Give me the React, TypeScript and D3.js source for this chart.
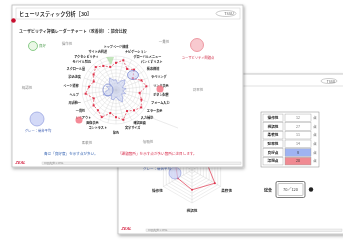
import { useEffect, useRef } from "react";
import * as d3 from "d3";

const W = 343;
const H = 241;

// 前面スライド：多軸レーダー
const radarLabels = [
  "トップページ構成", "ナビゲーション", "グローバルメニュー", "パンくずリスト", "検索機能", "ラベリング",
  "リンク表示", "ボタン配置", "フォーム入力", "エラー表示", "入力補助", "確認画面",
  "文字サイズ", "配色", "コントラスト", "画像表示", "レイアウト", "一貫性",
  "用語統一", "ヘルプ", "ページ遷移", "読込速度", "スクロール量", "モバイル対応",
  "アクセシビリティ", "サイト内回遊",
];
const issueScores = [8, 9, 7, 8, 6, 8, 9, 7, 8, 9, 8, 7, 9, 8, 7, 9, 8, 8, 7, 9, 8, 7, 8, 9, 8, 7];
const goodScores = [3, 2, 3, 4, 3, 2, 3, 2, 3, 2, 3, 4, 3, 2, 3, 3, 2, 3, 4, 3, 2, 3, 2, 3, 4, 3];
const gridLevels = [1, 2, 3, 4, 5, 6, 7, 8, 9, 10];
const categoryLabels = ["操作性", "一貫性", "視認性", "効率性", "柔軟性", "信頼性"];

// 背面スライド：六角レーダーと集計表
const hexLabels = ["信頼性", "効率性", "柔軟性", "視認性", "操作性", "一貫性"];
const hexScores = [6, 5, 8, 6, 5, 6];
const tableNames = ["操作性", "視認性", "柔軟性", "効率性", "良好点", "課題点"];
const tableValues = [12, 27, 11, 14, 8, 20];
const totalText = "70／120";

export default function App() {
  const ref = useRef<SVGSVGElement>(null);

  useEffect(() => {
    const svg = d3.select(ref.current);
    svg.selectAll("*").remove();
    const jp = "'Noto Sans CJK JP', 'Noto Sans', sans-serif";

    const defs = svg.append("defs");
    defs.append("filter").attr("id", "soft")
      .append("feGaussianBlur").attr("stdDeviation", 0.45);
    const sh = defs.append("filter").attr("id", "shadow")
      .attr("x", "-5%").attr("y", "-5%").attr("width", "115%").attr("height", "115%");
    sh.append("feDropShadow").attr("dx", 1).attr("dy", 1.5).attr("stdDeviation", 1.5)
      .attr("flood-color", "#000").attr("flood-opacity", 0.35);

    const root = svg.append("g").attr("filter", "url(#soft)");
    root.append("rect").attr("width", W).attr("height", H).attr("fill", "#fff");

    // ---------- 背面スライド ----------
    const back = root.append("g");
    back.append("rect").attr("x", 118).attr("y", 74).attr("width", 226).attr("height", 160)
      .attr("fill", "#fff").attr("stroke", "#bbb").attr("stroke-width", 0.8)
      .attr("filter", "url(#shadow)");
    back.append("line").attr("x1", 118).attr("x2", 343).attr("y1", 86).attr("y2", 86)
      .attr("stroke", "#ccc").attr("stroke-width", 0.6);
    back.append("ellipse").attr("cx", 329).attr("cy", 81).attr("rx", 8).attr("ry", 2.5)
      .attr("fill", "none").attr("stroke", "#999").attr("stroke-width", 0.5);
    back.append("text").attr("x", 331).attr("y", 82.5).attr("font-size", 3.5).attr("fill", "#555")
      .attr("text-anchor", "middle").attr("font-family", jp).text("TSSU");

    const hc = { x: 192, y: 170 };
    const hr = d3.scaleLinear().domain([0, 10]).range([0, 33]);
    const ha = d3.scaleLinear().domain([0, hexLabels.length]).range([0, 2 * Math.PI]);
    const hexLine = d3.lineRadial<number>().angle((_, i) => ha(i)).radius((d) => hr(d))
      .curve(d3.curveLinearClosed);
    const hg = back.append("g").attr("transform", `translate(${hc.x},${hc.y})`);
    gridLevels.forEach((lv) => {
      hg.append("path").attr("d", hexLine(hexLabels.map(() => lv)))
        .attr("fill", "none").attr("stroke", "#d4d4d4").attr("stroke-width", 0.4);
    });
    hexLabels.forEach((_, i) => {
      const [x, y] = d3.pointRadial(ha(i), hr(10));
      hg.append("line").attr("x2", x).attr("y2", y).attr("stroke", "#ccc").attr("stroke-width", 0.4);
    });
    hg.append("path").attr("d", hexLine(hexScores))
      .attr("fill", "none").attr("stroke", "#e0304a").attr("stroke-width", 0.7);
    hexScores.forEach((v, i) => {
      const [x, y] = d3.pointRadial(ha(i), hr(v));
      hg.append("circle").attr("cx", x).attr("cy", y).attr("r", 1).attr("fill", "#e0304a");
    });
    hexLabels.forEach((t, i) => {
      const [x, y] = d3.pointRadial(ha(i), hr(10) + 7);
      hg.append("text").attr("x", x).attr("y", y + 1.5).attr("text-anchor", "middle")
        .attr("font-size", 3.6).attr("font-weight", "bold").attr("fill", "#333")
        .attr("font-family", jp).text(t);
    });
    hg.append("circle").attr("cx", -17).attr("cy", 3).attr("r", 6)
      .attr("fill", "#c9cff3").attr("fill-opacity", 0.7).attr("stroke", "#8e98de").attr("stroke-width", 0.6);
    hg.append("text").attr("x", -35).attr("y", 0).attr("text-anchor", "middle").attr("font-size", 3.5)
      .attr("fill", "#3557b0").attr("font-family", jp).text("グレー：競合平均");

    // 集計表
    const rowY = d3.scaleBand<number>().domain(d3.range(tableNames.length)).range([113, 166]).padding(0.12);
    const tbl = back.append("g");
    tbl.append("rect").attr("x", 261).attr("y", 112).attr("width", 58).attr("height", 55)
      .attr("fill", "none").attr("stroke", "#888").attr("stroke-width", 0.5);
    tableNames.forEach((name, i) => {
      const y = rowY(i)!;
      const h = rowY.bandwidth();
      tbl.append("rect").attr("x", 263).attr("y", y).attr("width", 20).attr("height", h)
        .attr("fill", "#fff").attr("stroke", "#999").attr("stroke-width", 0.4);
      tbl.append("text").attr("x", 273).attr("y", y + h / 2 + 1.3).attr("text-anchor", "middle")
        .attr("font-size", 3.6).attr("font-weight", "bold").attr("fill", "#222").attr("font-family", jp).text(name);
      const fill = i === 4 ? "#9fb3f2" : i === 5 ? "#f08a92" : "#fff";
      tbl.append("rect").attr("x", 285).attr("y", y).attr("width", 26).attr("height", h)
        .attr("fill", fill).attr("stroke", "#999").attr("stroke-width", 0.4);
      tbl.append("text").attr("x", 298).attr("y", y + h / 2 + 1.3).attr("text-anchor", "middle")
        .attr("font-size", 3.6).attr("fill", i >= 4 ? "#333" : "#777").attr("font-family", jp)
        .text(String(tableValues[i]));
      tbl.append("text").attr("x", 315).attr("y", y + h / 2 + 1.3).attr("text-anchor", "middle")
        .attr("font-size", 3.4).attr("fill", "#333").attr("font-family", jp).text("点");
    });
    back.append("text").attr("x", 268).attr("y", 191.5).attr("text-anchor", "middle").attr("font-size", 4)
      .attr("font-weight", "bold").attr("fill", "#222").attr("font-family", jp).text("総合");
    back.append("rect").attr("x", 276).attr("y", 181.5).attr("width", 29).attr("height", 16).attr("rx", 1.5)
      .attr("fill", "#fff").attr("stroke", "#555").attr("stroke-width", 0.8);
    back.append("rect").attr("x", 278).attr("y", 183.5).attr("width", 25).attr("height", 12).attr("rx", 1)
      .attr("fill", "none").attr("stroke", "#888").attr("stroke-width", 0.5);
    back.append("text").attr("x", 290.5).attr("y", 191).attr("text-anchor", "middle").attr("font-size", 4)
      .attr("fill", "#444").attr("font-family", jp).text(totalText);
    back.append("circle").attr("cx", 311).attr("cy", 189.5).attr("r", 2.2).attr("fill", "#222");

    back.append("text").attr("x", 121).attr("y", 230).attr("font-size", 4.2).attr("font-style", "italic")
      .attr("font-weight", "bold").attr("fill", "#d8314f").attr("font-family", jp).text("ZEAL");
    back.append("rect").attr("x", 146).attr("y", 229).attr("width", 196).attr("height", 2.5)
      .attr("fill", "#f0f0f0").attr("stroke", "#ccc").attr("stroke-width", 0.4);
    back.append("text").attr("x", 148).attr("y", 231.3).attr("font-size", 2.4).attr("fill", "#888")
      .attr("font-family", jp).text("Copyright © ZEAL");

    // ---------- 前面スライド ----------
    const front = root.append("g");
    front.append("rect").attr("x", 12).attr("y", 5).attr("width", 231).attr("height", 162)
      .attr("fill", "#fff").attr("stroke", "#bbb").attr("stroke-width", 0.8)
      .attr("filter", "url(#shadow)");
    front.append("rect").attr("x", 16).attr("y", 8).attr("width", 224).attr("height", 11)
      .attr("fill", "#fff").attr("stroke", "#ccc").attr("stroke-width", 0.5);
    front.append("text").attr("x", 19).attr("y", 15.5).attr("font-size", 5.2).attr("font-weight", "bold")
      .attr("fill", "#333").attr("font-family", jp).text("ヒューリスティック分析［30］");
    front.append("circle").attr("cx", 13.5).attr("cy", 20.5).attr("r", 2.3).attr("fill", "#c8102e");
    front.append("ellipse").attr("cx", 226).attr("cy", 13.5).attr("rx", 10).attr("ry", 3)
      .attr("fill", "none").attr("stroke", "#999").attr("stroke-width", 0.5);
    front.append("text").attr("x", 229).attr("y", 15).attr("font-size", 3.8).attr("fill", "#555")
      .attr("text-anchor", "middle").attr("font-family", jp).text("TSSU");
    front.append("text").attr("x", 19).attr("y", 33).attr("font-size", 4).attr("font-weight", "bold")
      .attr("fill", "#333").attr("font-family", jp).text("ユーザビリティ評価レーダーチャート（改善前）：競合比較");

    const c = { x: 116, y: 90 };
    const r = d3.scaleLinear().domain([0, 10]).range([0, 34]);
    const a = d3.scaleLinear().domain([0, radarLabels.length]).range([0, 2 * Math.PI]);
    const radar = d3.lineRadial<number>().angle((_, i) => a(i)).radius((d) => r(d))
      .curve(d3.curveLinearClosed);
    const g = front.append("g").attr("transform", `translate(${c.x},${c.y})`);

    gridLevels.forEach((lv) => {
      g.append("circle").attr("r", r(lv)).attr("fill", "none")
        .attr("stroke", "#d6d6d6").attr("stroke-width", 0.4);
    });
    radarLabels.forEach((_, i) => {
      const [x, y] = d3.pointRadial(a(i), r(10));
      g.append("line").attr("x2", x).attr("y2", y).attr("stroke", "#d0d0d0").attr("stroke-width", 0.4);
    });
    g.append("path").attr("d", radar(goodScores))
      .attr("fill", "#b9c3ee").attr("fill-opacity", 0.45).attr("stroke", "#7d8bd6").attr("stroke-width", 0.5);
    g.append("path").attr("d", radar(issueScores))
      .attr("fill", "none").attr("stroke", "#e0304a").attr("stroke-width", 0.7).attr("stroke-dasharray", "2,1.5");
    issueScores.forEach((v, i) => {
      const [x, y] = d3.pointRadial(a(i), r(v));
      g.append("rect").attr("x", x - 1).attr("y", y - 1).attr("width", 2).attr("height", 2).attr("fill", "#e0304a");
    });

    // 軸ラベル：左右それぞれ縦方向の重なりを解消
    const labelPos = radarLabels.map((t, i) => {
      const ang = a(i);
      const [x, y] = d3.pointRadial(ang, r(10) + 3.5);
      const s = Math.sin(ang);
      const side = Math.abs(s) < 0.05 ? 0 : s > 0 ? 1 : -1;
      return { t, x, y: side === 0 ? (y < 0 ? y - 5 : y + 6) : y + 1.1, side };
    });
    const gap = 4.6;
    [1, -1].forEach((side) => {
      const items = labelPos.filter((p) => p.side === side).sort((p, q) => p.y - q.y);
      const mid = Math.floor(items.length / 2);
      for (let k = mid - 1; k >= 0; k--) items[k].y = Math.min(items[k].y, items[k + 1].y - gap);
      for (let k = mid + 1; k < items.length; k++) items[k].y = Math.max(items[k].y, items[k - 1].y + gap);
    });
    labelPos.forEach((p) => {
      g.append("text").attr("x", p.x).attr("y", p.y)
        .attr("text-anchor", p.side === 0 ? "middle" : p.side > 0 ? "start" : "end")
        .attr("font-size", 3.1).attr("font-weight", "bold").attr("fill", "#222")
        .attr("font-family", jp).text(p.t);
    });

    // 注釈の円
    g.append("ellipse").attr("cx", -8).attr("cy", 0).attr("rx", 5).attr("ry", 6)
      .attr("fill", "none").attr("stroke", "#6f7fd0").attr("stroke-width", 0.7);
    g.append("ellipse").attr("cx", 17).attr("cy", -15).attr("rx", 5.5).attr("ry", 4.5)
      .attr("fill", "#c9cff3").attr("fill-opacity", 0.5).attr("stroke", "#6f7fd0").attr("stroke-width", 0.7);
    g.append("circle").attr("cx", 44).attr("cy", -1).attr("r", 3.5)
      .attr("fill", "#f26d7d").attr("fill-opacity", 0.8);
    g.append("circle").attr("cx", -37).attr("cy", 30).attr("r", 3.5)
      .attr("fill", "#f26d7d").attr("fill-opacity", 0.8);
    g.append("path").attr("d", "M-10,-33 L-5,-25 L-2,-33 Z").attr("fill", "#a9dba0").attr("fill-opacity", 0.7);

    const corners = [[-49, -45], [48, -47], [-89, -1], [82, 1], [-29, 54], [32, 53]];
    categoryLabels.forEach((t, i) => {
      g.append("text").attr("x", corners[i][0]).attr("y", corners[i][1]).attr("text-anchor", "middle")
        .attr("font-size", 3.5).attr("fill", "#888").attr("font-family", jp).text(t);
    });

    // 凡例的な円
    front.append("circle").attr("cx", 33).attr("cy", 46).attr("r", 4.5)
      .attr("fill", "#eaf7e6").attr("stroke", "#5cb85c").attr("stroke-width", 0.7);
    front.append("text").attr("x", 39).attr("y", 47.3).attr("font-size", 3.4).attr("fill", "#4a9a4a")
      .attr("font-family", jp).text("良好");
    front.append("circle").attr("cx", 197).attr("cy", 45).attr("r", 6.5)
      .attr("fill", "#f8c9cf").attr("stroke", "#e88591").attr("stroke-width", 0.8);
    front.append("text").attr("x", 198).attr("y", 59).attr("text-anchor", "middle").attr("font-size", 3.3)
      .attr("fill", "#d0304a").attr("font-family", jp).text("ユーザビリティ問題点");
    front.append("circle").attr("cx", 37).attr("cy", 119).attr("r", 7)
      .attr("fill", "#d3d9f7").attr("stroke", "#9aa6e2").attr("stroke-width", 0.8);
    front.append("text").attr("x", 38).attr("y", 132).attr("text-anchor", "middle").attr("font-size", 3.3)
      .attr("fill", "#3557b0").attr("font-family", jp).text("グレー：競合平均");
    front.append("line").attr("x1", 152).attr("y1", 118).attr("x2", 178).attr("y2", 128)
      .attr("stroke", "#ddd").attr("stroke-width", 0.6);

    front.append("text").attr("x", 44).attr("y", 155).attr("font-size", 3.6).attr("fill", "#2f5fb0")
      .attr("font-family", jp).text("青は「良好度」を示す点が多い。");
    front.append("text").attr("x", 118).attr("y", 155).attr("font-size", 3.6).attr("fill", "#d8314f")
      .attr("font-family", jp).text("「課題箇所」を示す点が多い箇所に注目します。");

    front.append("text").attr("x", 15).attr("y", 164).attr("font-size", 4.2).attr("font-style", "italic")
      .attr("font-weight", "bold").attr("fill", "#d8314f").attr("font-family", jp).text("ZEAL");
    front.append("rect").attr("x", 42).attr("y", 162).attr("width", 199).attr("height", 2.5)
      .attr("fill", "#f0f0f0").attr("stroke", "#ccc").attr("stroke-width", 0.4);
    front.append("text").attr("x", 44).attr("y", 164.3).attr("font-size", 2.4).attr("fill", "#888")
      .attr("font-family", jp).text("Copyright © ZEAL");
  }, []);

  return (
    <svg ref={ref} width={W} height={H}
      style={{ position: "absolute", left: 0, top: 0, display: "block" }} />
  );
}
